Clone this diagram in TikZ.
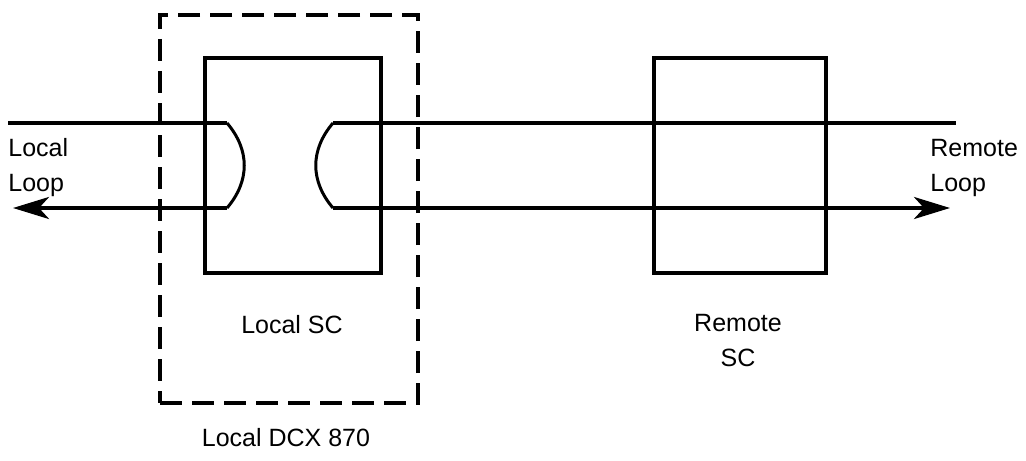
\documentclass[tikz,border=0pt]{standalone}
\usepackage{fontspec}
\setmainfont{Liberation Sans}
\usepackage{tikz}
\usetikzlibrary{arrows.meta,positioning,calc}

\begin{document}
\begin{tikzpicture}[x=0.5pt,y=-0.5pt,
          line/.style={black, line width=2pt},
          loop/.style={black, line width=2pt, -{Stealth[length=18pt,width=11pt,inset=5pt]}},
          plug/.style={black, line width=1.5pt},
          scbox/.style={draw, line width=2pt, minimum width=88pt, minimum height=107.5pt, inner sep=0pt},
          dcx/.style={draw, line width=2pt, dash pattern=on 11pt off 5pt, minimum width=129pt, minimum height=194pt, inner sep=0pt},
          lbl/.style={font=\fontsize{12.5}{17.5}\selectfont, inner sep=0pt}
        ]
          \useasboundingbox (0,0) rectangle (1026,460);

          % Kaesten
          \node[dcx] (dcx) at (289,209) {};
          \node[scbox] (lsc) at (292.5,165.5) {};
          \node[scbox, minimum width=86pt] (rsc) at (739.5,165.5) {};

          % Leitungsenden
          \coordinate (ltl) at (8,123);
          \coordinate (lbl) at (13,208);
          \coordinate (lpt) at (227,123);
          \coordinate (lpb) at (227,208);
          \coordinate (rpt) at (333,123);
          \coordinate (rpb) at (333,208);
          \coordinate (rtr) at (956,123);
          \coordinate (rbr) at (950,208);

          % Local Loop
          \draw[line] (ltl) -- (lpt);
          \draw[plug] (lpt) .. controls ($(lpt)+(23,27)$) and ($(lpb)+(23,-27)$) .. (lpb);
          \draw[loop] (lpb) -- (lbl);

          % Remote Loop
          \draw[line] (rpt) -- (rtr);
          \draw[plug] (rpt) .. controls ($(rpt)+(-23,27)$) and ($(rpb)+(-23,-27)$) .. (rpb);
          \draw[loop] (rpb) -- (rbr);

          % Beschriftung
          \node[lbl, align=left, anchor=west] (ll) at (8,168) {Local\\Loop};
          \node[lbl, align=left, anchor=west] (rl) at (930,168) {Remote\\Loop};
          \node[lbl] (lsct) at (292,325) {Local SC};
          \node[lbl, align=center] (rsct) at (738,341) {Remote\\SC};
          \node[lbl] (dcxt) at (286,438) {Local DCX 870};
        \end{tikzpicture}
\end{document}
